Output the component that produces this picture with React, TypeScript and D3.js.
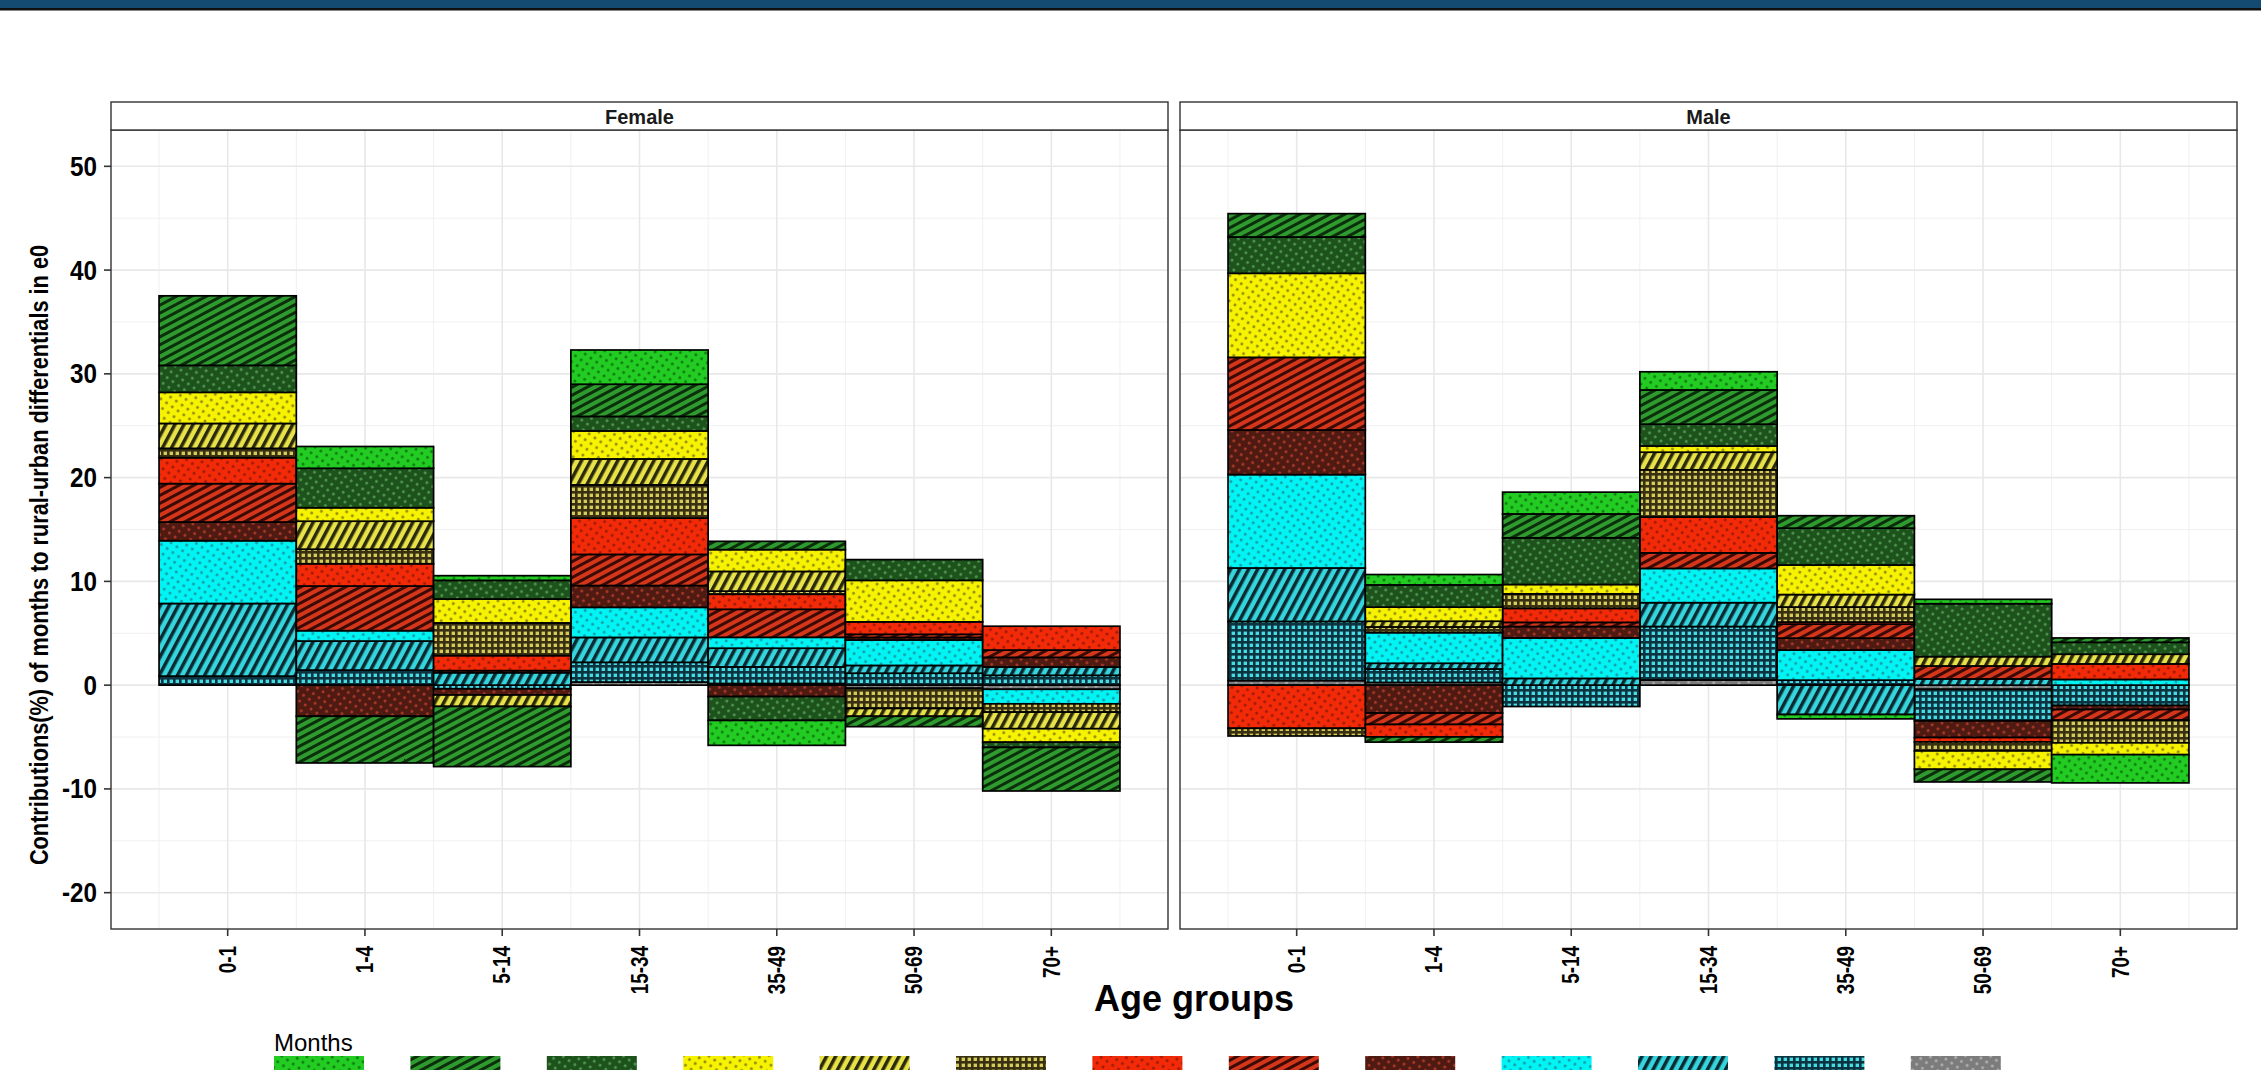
import React from "react";
import * as d3 from "d3";

// ---------- data ----------
const ageGroups = ["0-1", "1-4", "5-14", "15-34", "35-49", "50-69", "70+"];
const panels = ["Female", "Male"];
const monthKeys = ["m01", "m02", "m03", "m04", "m05", "m06", "m07", "m08", "m09", "m10", "m11", "m12", "m13"];
const yTicks = [-20, -10, 0, 10, 20, 30, 40, 50];
const yMinor = [-15, -5, 5, 15, 25, 35, 45];

// Female contributions by month (values per age group)
const female01 = [0, 2.1, 0.45, 3.3, -2.4, 0, 0];
const female02 = [6.7, -4.5, -5.8, 3.1, 0.8, -1.0, -4.2];
const female03 = [2.6, 3.8, 1.8, 1.4, -2.3, 2.0, -0.5];
const female04 = [3.0, 1.3, 2.3, 2.7, 2.1, 4.0, -1.3];
const female05 = [2.4, 2.7, -1.1, 2.5, 1.9, -0.75, -1.6];
const female06 = [0.9, 1.4, 3.15, 3.2, 0.3, -1.95, -0.8];
const female07 = [2.5, 2.15, 1.45, 3.5, 1.45, 1.2, 2.3];
const female08 = [3.7, 4.3, 0.2, 3.0, 2.7, 0.3, 0.7];
const female09 = [1.8, -3.0, -0.6, 2.1, -1.1, 0.25, 0.93];
const female10 = [6.05, 1.0, 0, 2.9, 1.05, 2.45, -1.4];
const female11 = [7.0, 2.8, 1.2, 2.4, 1.8, 0.75, 0.8];
const female12 = [0.87, 1.45, -0.35, 1.9, 1.6, 1.15, 0.95];
const female13 = [0, 0, 0, 0.3, 0.16, -0.3, -0.4];

// Male contributions by month
const male01 = [0, 1.0, 2.1, 1.75, -0.42, 0.42, -2.72];
const male02 = [2.25, -0.5, 2.3, 3.3, 1.2, -1.22, 0.42];
const male03 = [3.5, 2.14, 4.5, 2.1, 3.55, 5.1, 1.15];
const male04 = [8.1, 1.36, 0.9, 0.6, 2.85, -1.77, -1.14];
const male05 = [0, 0.55, 0, 1.7, 1.2, 0.9, 0.93];
const male06 = [-0.74, 0.55, 1.4, 4.55, 1.45, -0.87, -2.18];
const male07 = [-4.16, -1.2, 1.35, 3.45, 0.2, -0.42, 1.5];
const male08 = [7.0, -1.1, 0.4, 1.5, 1.35, 1.25, -1.03];
const male09 = [4.3, -2.69, 1.1, 0, 1.15, -1.6, -0.39];
const male10 = [9.0, 2.95, 3.9, 3.3, 2.9, 0, 0.55];
const male11 = [5.15, 0.55, 0.65, 2.3, -2.83, 0.6, 0];
const male12 = [5.7, 1.3, -2.06, 5.15, 0.48, -3.05, -1.96];
const male13 = [0.44, 0.26, 0, 0.5, 0, -0.4, 0];

const femaleSeries = [female01, female02, female03, female04, female05, female06, female07, female08, female09, female10, female11, female12, female13];
const maleSeries = [male01, male02, male03, male04, male05, male06, male07, male08, male09, male10, male11, male12, male13];

// ---------- styles ----------
type Pat = { kind: "dots" | "stripes" | "steep" | "grid"; bg: string; fg: string };
const monthStyles: Pat[] = [
  { kind: "dots", bg: "#22cc22", fg: "#0f7a0f" },
  { kind: "stripes", bg: "#2f9a2f", fg: "#0b2e0b" },
  { kind: "dots", bg: "#1d521d", fg: "#4f9a4f" },
  { kind: "dots", bg: "#f6f200", fg: "#8f8a10" },
  { kind: "steep", bg: "#e8e24a", fg: "#2b2a08" },
  { kind: "grid", bg: "#d4cc5a", fg: "#383010" },
  { kind: "dots", bg: "#f22a08", fg: "#9a1a08" },
  { kind: "stripes", bg: "#d4361c", fg: "#3a0a04" },
  { kind: "dots", bg: "#4e1a12", fg: "#b03a28" },
  { kind: "dots", bg: "#00f4f4", fg: "#1a9aa4" },
  { kind: "steep", bg: "#36d4dc", fg: "#0a2a32" },
  { kind: "grid", bg: "#46dce4", fg: "#0c3440" },
  { kind: "dots", bg: "#7c7c7c", fg: "#b0b0b0" },
];

const W = 2261;
const H = 1070;
const panelTop = 130;
const panelBottom = 929;
const stripTop = 102;
const panelX = [
  [111, 1168],
  [1180, 2237],
];
const FONT = "'Liberation Sans', Arial, sans-serif";

function PatternDef({ id, p }: { id: string; p: Pat }) {
  if (p.kind === "dots") {
    return (
      <pattern id={id} width={7} height={7} patternUnits="userSpaceOnUse" patternTransform="rotate(35)">
        <rect width={7} height={7} fill={p.bg} />
        <circle cx={3.5} cy={3.5} r={1.4} fill={p.fg} />
      </pattern>
    );
  }
  if (p.kind === "stripes") {
    return (
      <pattern id={id} width={7} height={7} patternUnits="userSpaceOnUse" patternTransform="rotate(-28)">
        <rect width={7} height={7} fill={p.bg} />
        <rect width={7} height={3} fill={p.fg} />
      </pattern>
    );
  }
  if (p.kind === "steep") {
    return (
      <pattern id={id} width={8} height={8} patternUnits="userSpaceOnUse" patternTransform="rotate(-62)">
        <rect width={8} height={8} fill={p.bg} />
        <rect width={8} height={3.5} fill={p.fg} />
      </pattern>
    );
  }
  return (
    <pattern id={id} width={6} height={6} patternUnits="userSpaceOnUse">
      <rect width={6} height={6} fill={p.fg} />
      <rect x={1.6} y={1.6} width={3.4} height={3.4} fill={p.bg} />
    </pattern>
  );
}

export default function App() {
  const y = d3.scaleLinear().domain([-23.5, 53.5]).range([panelBottom, panelTop]);
  const seriesBySex = [femaleSeries, maleSeries];
  const stackKeys = [...monthKeys].reverse(); // last month nearest zero
  const stacker = d3.stack<any>().keys(stackKeys).offset(d3.stackOffsetDiverging);

  return (
    <div style={{ position: "absolute", left: 0, top: 0, margin: 0 }}>
      <svg width={W} height={H} style={{ display: "block", background: "#fff" }} fontFamily={FONT}>
        <defs>
          {monthStyles.map((p, i) => (
            <PatternDef key={i} id={`pat${i}`} p={p} />
          ))}
        </defs>
        {/* top banner */}
        <rect x={0} y={0} width={W} height={8} fill="#134b72" />
        <rect x={0} y={8} width={W} height={2.5} fill="#111" />

        {panels.map((name, pi) => {
          const [x0, x1] = panelX[pi];
          const x = d3.scaleLinear().domain([0.15, 7.85]).range([x0, x1]);
          const rows = ageGroups.map((a, ai) => {
            const r: any = { age: a, idx: ai + 1 };
            monthKeys.forEach((k, mi) => (r[k] = seriesBySex[pi][mi][ai]));
            return r;
          });
          const stacked = stacker(rows);
          const vMajor = ageGroups.map((_, i) => i + 1);
          const vMinor = d3.range(0, 8).map((i) => i + 0.5);
          return (
            <g key={name}>
              <rect x={x0} y={panelTop} width={x1 - x0} height={panelBottom - panelTop} fill="#fff" />
              {vMinor.map((v) => (
                <line key={"vm" + v} x1={x(v)} x2={x(v)} y1={panelTop} y2={panelBottom} stroke="#f0f0f0" strokeWidth={1} />
              ))}
              {yMinor.map((v) => (
                <line key={"hm" + v} x1={x0} x2={x1} y1={y(v)} y2={y(v)} stroke="#f0f0f0" strokeWidth={1} />
              ))}
              {vMajor.map((v) => (
                <line key={"vM" + v} x1={x(v)} x2={x(v)} y1={panelTop} y2={panelBottom} stroke="#e8e8e8" strokeWidth={1.6} />
              ))}
              {yTicks.map((v) => (
                <line key={"hM" + v} x1={x0} x2={x1} y1={y(v)} y2={y(v)} stroke="#e8e8e8" strokeWidth={1.6} />
              ))}
              {stacked.map((s) => {
                const mi = monthKeys.indexOf(s.key);
                return s.map((d, ai) => {
                  if (Math.abs(d[1] - d[0]) < 1e-9) return null;
                  const xc = ai + 1;
                  const yt = y(Math.max(d[0], d[1]));
                  const yb = y(Math.min(d[0], d[1]));
                  return (
                    <rect
                      key={s.key + ai}
                      x={x(xc - 0.5)}
                      y={yt}
                      width={x(xc + 0.5) - x(xc - 0.5)}
                      height={yb - yt}
                      fill={`url(#pat${mi})`}
                      stroke="#000"
                      strokeWidth={1.7}
                    />
                  );
                });
              })}
              <rect x={x0} y={panelTop} width={x1 - x0} height={panelBottom - panelTop} fill="none" stroke="#333" strokeWidth={1.4} />
              <rect x={x0} y={stripTop} width={x1 - x0} height={panelTop - stripTop} fill="#fff" stroke="#333" strokeWidth={1.4} />
              <text x={(x0 + x1) / 2} y={(stripTop + panelTop) / 2 + 1} textAnchor="middle" dominantBaseline="central" fontSize={20} fontWeight="bold" fill="#1a1a1a">
                {name}
              </text>
              {/* x ticks */}
              {ageGroups.map((a, i) => (
                <g key={a}>
                  <line x1={x(i + 1)} x2={x(i + 1)} y1={panelBottom} y2={panelBottom + 7} stroke="#333" strokeWidth={1.6} />
                  <text transform={`translate(${x(i + 1)},${panelBottom + 17}) rotate(-90) scale(0.82,1)`} textAnchor="end" dominantBaseline="central" fontSize={23} fontWeight="bold" fill="#000">
                    {a}
                  </text>
                </g>
              ))}
              {pi === 0 &&
                yTicks.map((v) => (
                  <g key={"yt" + v}>
                    <line x1={x0 - 7} x2={x0} y1={y(v)} y2={y(v)} stroke="#333" strokeWidth={1.6} />
                    <text transform={`translate(${x0 - 14},${y(v)}) scale(0.9,1)`} textAnchor="end" dominantBaseline="central" fontSize={27} fontWeight="bold" fill="#000">
                      {v}
                    </text>
                  </g>
                ))}
            </g>
          );
        })}

        {/* axis titles */}
        <text transform={`translate(39,555) rotate(-90) scale(0.82,1)`} textAnchor="middle" dominantBaseline="central" fontSize={26.5} fontWeight="bold" fill="#000">
          Contributions(%) of months to rural-urban differentials in e0
        </text>
        <text x={1194} y={1011} textAnchor="middle" fontSize={36} fontWeight="bold" fill="#000">
          Age groups
        </text>

        {/* legend */}
        <text x={274} y={1051} fontSize={24} fill="#000">
          Months
        </text>
        {monthStyles.map((p, i) => (
          <rect key={"lg" + i} x={274 + i * 136.4} y={1056} width={90} height={30} fill={`url(#pat${i})`} />
        ))}
      </svg>
    </div>
  );
}
